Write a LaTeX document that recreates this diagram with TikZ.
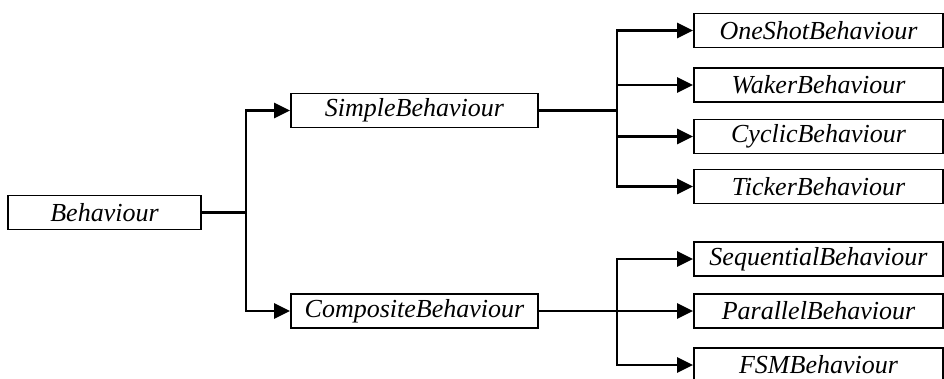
\documentclass[tikz,border=0pt]{standalone}
\usepackage{fontspec}
\setmainfont{Liberation Serif}
\usetikzlibrary{arrows.meta}
\begin{document}
\begin{tikzpicture}[x=1pt,y=-1pt,
  cls/.style={draw, line width=1.8pt, inner sep=0pt, minimum height=34pt,
    font=\fontsize{26}{30}\selectfont\itshape},
  link/.style={line width=2.4pt},
  isa/.style={link, -{Triangle[length=16pt,width=15pt]}}]
\useasboundingbox (0,0) rectangle (944,378);

% class boxes
\node[cls, minimum width=193pt] (beh)  at (104.5,212.5) {Behaviour};
\node[cls, minimum width=247pt] (simple) at (414.5,110.5) {SimpleBehaviour};
\node[cls, minimum width=247pt] (comp) at (414.5,311) {CompositeBehaviour};

\node[cls, minimum width=249pt] (oneshot) at (818.5,30.5) {OneShotBehaviour};
\node[cls, minimum width=249pt] (waker)   at (818.5,85)   {WakerBehaviour};
\node[cls, minimum width=249pt] (cyclic)  at (818.5,136.5) {CyclicBehaviour};
\node[cls, minimum width=249pt] (ticker)  at (818.5,186.5) {TickerBehaviour};

\node[cls, minimum width=249pt] (seq) at (818.5,259) {SequentialBehaviour};
\node[cls, minimum width=249pt] (par) at (818.5,311) {ParallelBehaviour};
\node[cls, minimum width=249pt] (fsm) at (818.5,365) {FSMBehaviour};

% branching points
\coordinate (j0) at (246,212.5);
\coordinate (j1) at (617,110.5);
\coordinate (j2) at (617,311);

% inheritance connectors
\draw[link] (beh.east) -- (j0);
\draw[isa] (j0) |- (simple.west);
\draw[isa] (j0) |- (comp.west);

\draw[link] (simple.east) -- (j1);
\draw[isa] (j1) |- (oneshot.west);
\draw[isa] (j1) |- (waker.west);
\draw[isa] (j1) |- (cyclic.west);
\draw[isa] (j1) |- (ticker.west);

\draw[link] (comp.east) -- (j2);
\draw[isa] (j2) |- (seq.west);
\draw[isa] (j2) |- (par.west);
\draw[isa] (j2) |- (fsm.west);
\end{tikzpicture}
\end{document}
